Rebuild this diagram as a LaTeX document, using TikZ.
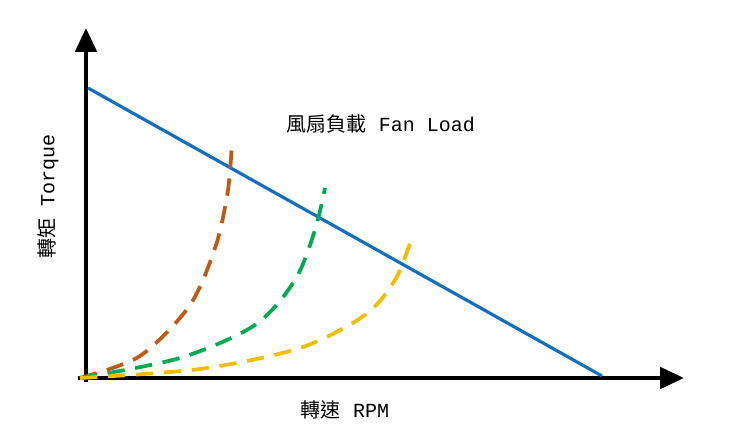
\documentclass[tikz,border=0pt]{standalone}
\usepackage{fontspec}
\newfontfamily\cjk{Noto Sans CJK TC}
\setmainfont{Liberation Mono}
\begin{document}
\begin{tikzpicture}[x=0.75pt,y=-0.75pt,
  axis/.style={line width=3.2pt,-{Triangle[length=18pt,width=16pt]}},
  dsh/.style={line width=2.8pt,dash pattern=on 13pt off 8pt},
  lbl/.style={font=\fontsize{15}{18}\selectfont}]
\usetikzlibrary{arrows.meta}
\useasboundingbox (0,0) rectangle (740,438);
\coordinate (o) at (86,378);
\coordinate (yt) at (86,28);
\coordinate (xt) at (684,378);
\coordinate (x0) at (78,378);
\draw[axis] (86,382) -- (yt);
\draw[axis] (x0) -- (xt);
\coordinate (b1) at (88,88);
\coordinate (b2) at (602,376);
\draw[line width=2.4pt,color={rgb,255:red,20;green,110;blue,190}] (b1) -- (b2);
\draw[dsh,color={rgb,255:red,190;green,90;blue,20}] plot[smooth] coordinates {(80,378) (140,356) (190,305) (216,245) (228,190) (232,142)};
\draw[dsh,color={rgb,255:red,0;green,170;blue,80}] plot[smooth] coordinates {(80,378) (180,358) (255,325) (295,280) (315,230) (325,188)};
\draw[dsh,color={rgb,255:red,240;green,190;blue,0}] plot[smooth] coordinates {(80,378) (200,369) (300,348) (365,315) (395,280) (410,243)};
\node[lbl] (t1) at (381,124) {{\cjk 風扇負載} Fan Load};
\node[lbl,rotate=90] (t2) at (48,196) {{\cjk 轉矩} Torque};
\node[lbl] (t3) at (345,410) {{\cjk 轉速} RPM};
\end{tikzpicture}
\end{document}
